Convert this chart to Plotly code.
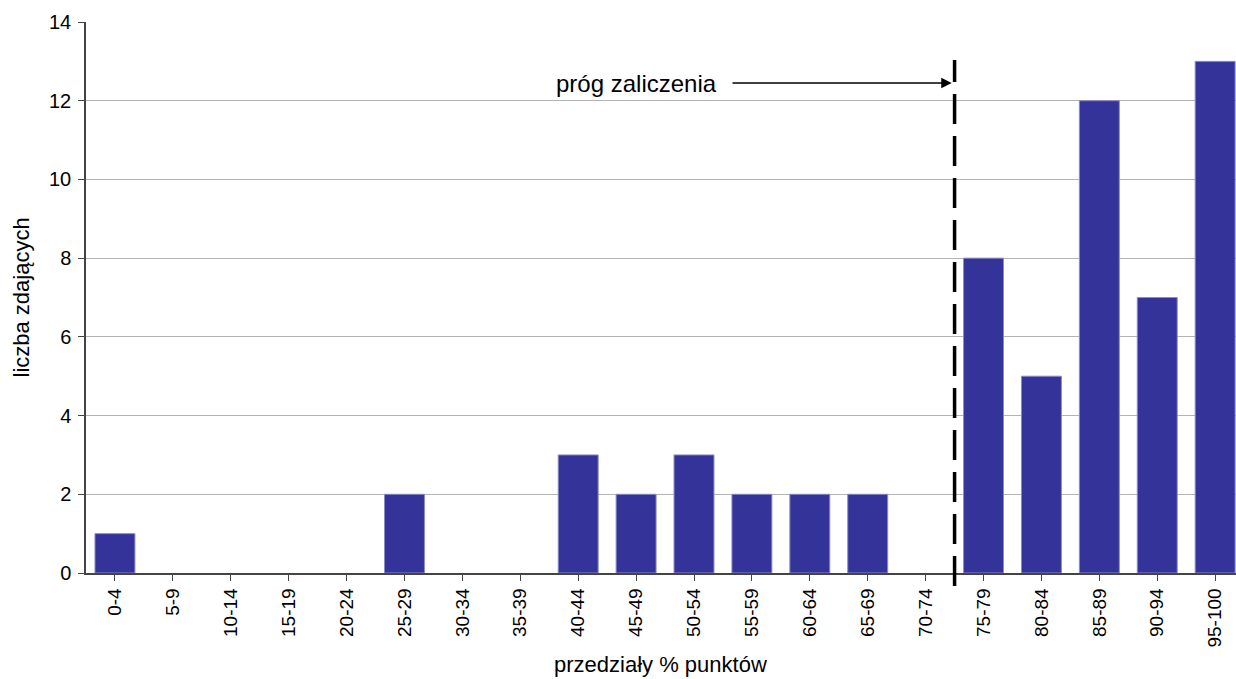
import plotly.graph_objects as go

categories = ["0-4", "5-9", "10-14", "15-19", "20-24", "25-29", "30-34", "35-39",
              "40-44", "45-49", "50-54", "55-59", "60-64", "65-69", "70-74",
              "75-79", "80-84", "85-89", "90-94", "95-100"]
counts = [1, 0, 0, 0, 0, 2, 0, 0, 3, 2, 3, 2, 2, 2, 0, 8, 5, 12, 7, 13]
y_ticks = [0, 2, 4, 6, 8, 10, 12, 14]
threshold_index = 14.5  # boundary between 70-74 and 75-79
threshold_label = "próg zaliczenia"

FONT = "Liberation Sans, Arial, sans-serif"
W, H = 1236, 679
ML, MR, MT, MB = 86, 0, 22, 106
plot_w = W - ML - MR
plot_h = H - MT - MB

x_lo = -0.5
x_hi = 19.36
y_lo, y_hi = 0, 14

def xpaper(v):
    return (v - x_lo) / (x_hi - x_lo)

def ypaper_px(py):
    return (H - MB - py) / plot_h

fig = go.Figure()
fig.add_trace(go.Bar(
    x=list(range(len(categories))),
    y=counts,
    marker=dict(color="#333399",
                line=dict(color="#8c8cc6", width=[1 if v > 0 else 0 for v in counts])),
    hoverinfo="x+y",
))

fig.update_layout(
    width=W, height=H,
    margin=dict(l=ML, r=MR, t=MT, b=MB, pad=0),
    plot_bgcolor="white", paper_bgcolor="white",
    bargap=0.31,
    showlegend=False,
    font=dict(family=FONT, color="black", size=19),
    xaxis=dict(
        range=[x_lo, x_hi],
        tickmode="array",
        tickvals=list(range(len(categories))),
        ticktext=categories,
        tickangle=-90,
        ticks="outside", ticklen=6, tickcolor="#444444", tickwidth=1,
        tickson="boundaries",
        showline=True, linecolor="#444444", linewidth=1.5,
        showgrid=False, zeroline=False,
        tickfont=dict(family=FONT, size=19, color="black"),
        ticklabelstandoff=0,
    ),
    yaxis=dict(
        range=[y_lo, y_hi],
        tickmode="array", tickvals=y_ticks,
        ticks="outside", ticklen=6, tickcolor="#444444", tickwidth=1,
        showline=True, linecolor="#444444", linewidth=1.5,
        showgrid=True, gridcolor="#b4b4b4", gridwidth=1,
        zeroline=False,
        tickfont=dict(family=FONT, size=20, color="black"),
        ticklabelstandoff=3,
    ),
)

# dashed threshold line
fig.add_shape(
    type="line", xref="paper", yref="paper",
    x0=xpaper(threshold_index), x1=xpaper(threshold_index),
    y0=ypaper_px(586), y1=ypaper_px(60),
    line=dict(color="black", width=3.5, dash="30px,12px"),
    layer="above",
)

# arrow
arrow_y = y_hi * ypaper_px(83)
fig.add_annotation(
    x=threshold_index - 0.05, y=arrow_y, xref="x", yref="y",
    ax=x_lo + (731 - ML) / plot_w * (x_hi - x_lo), ay=arrow_y,
    axref="x", ayref="y",
    text="", showarrow=True, arrowhead=2, arrowsize=1.3, arrowwidth=1.6,
    arrowcolor="black", standoff=0,
)
fig.add_annotation(
    x=x_lo + (719 - ML) / plot_w * (x_hi - x_lo), y=arrow_y, xref="x", yref="y",
    text=threshold_label, showarrow=False, xanchor="right", yanchor="middle",
    font=dict(family=FONT, size=24, color="black"),
)

# axis titles
fig.add_annotation(
    x=(660 - ML) / plot_w, y=ypaper_px(664), xref="paper", yref="paper",
    text="przedziały % punktów", showarrow=False,
    xanchor="center", yanchor="middle",
    font=dict(family=FONT, size=22, color="black"),
)
fig.add_annotation(
    x=(21 - ML) / plot_w, y=0.5, xref="paper", yref="paper",
    text="liczba zdających", showarrow=False, textangle=-90,
    xanchor="center", yanchor="middle",
    font=dict(family=FONT, size=22, color="black"),
)

fig.write_html("out.html", config={"displayModeBar": False},
               post_script="document.body.style.margin='0px';")
